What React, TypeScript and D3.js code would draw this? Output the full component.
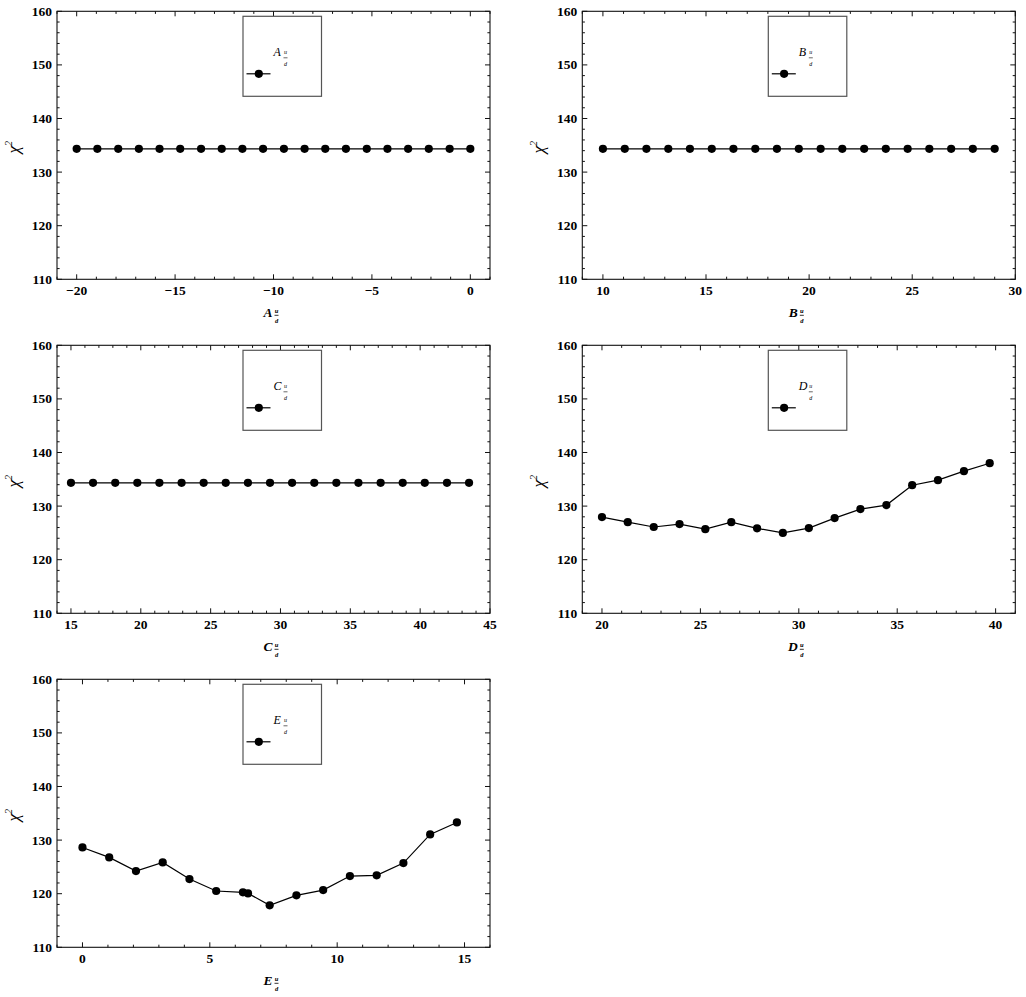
import React from "react";
import * as d3 from "d3";

// ---------- data ----------
const aX = [-20, -18.95, -17.89, -16.84, -15.79, -14.74, -13.68, -12.63, -11.58, -10.53, -9.47, -8.42, -7.37, -6.32, -5.26, -4.21, -3.16, -2.11, -1.05, 0];
const aY = [134.35, 134.35, 134.35, 134.35, 134.35, 134.35, 134.35, 134.35, 134.35, 134.35, 134.35, 134.35, 134.35, 134.35, 134.35, 134.35, 134.35, 134.35, 134.35, 134.35];

const bX = [10, 11.06, 12.11, 13.17, 14.22, 15.28, 16.33, 17.39, 18.44, 19.5, 20.56, 21.61, 22.67, 23.72, 24.78, 25.83, 26.89, 27.94, 29];
const bY = [134.35, 134.35, 134.35, 134.35, 134.35, 134.35, 134.35, 134.35, 134.35, 134.35, 134.35, 134.35, 134.35, 134.35, 134.35, 134.35, 134.35, 134.35, 134.35];

const cX = [15, 16.58, 18.17, 19.75, 21.33, 22.92, 24.5, 26.08, 27.67, 29.25, 30.83, 32.42, 34, 35.58, 37.17, 38.75, 40.33, 41.92, 43.5];
const cY = [134.35, 134.35, 134.35, 134.35, 134.35, 134.35, 134.35, 134.35, 134.35, 134.35, 134.35, 134.35, 134.35, 134.35, 134.35, 134.35, 134.35, 134.35, 134.35];

const dX = [20, 21.31, 22.63, 23.94, 25.25, 26.57, 27.88, 29.19, 30.51, 31.82, 33.13, 34.45, 35.76, 37.07, 38.39, 39.7];
const dY = [127.95, 127.0, 126.1, 126.65, 125.7, 127.0, 125.85, 125.0, 125.9, 127.76, 129.44, 130.19, 133.9, 134.84, 136.52, 138.0];

const eX = [0, 1.05, 2.1, 3.15, 4.2, 5.25, 6.3, 6.5, 7.35, 8.4, 9.45, 10.5, 11.55, 12.6, 13.65, 14.7];
const eY = [128.63, 126.77, 124.22, 125.84, 122.73, 120.5, 120.25, 120.06, 117.83, 119.69, 120.68, 123.29, 123.42, 125.71, 131.06, 133.29];

const aTicks = [-20, -15, -10, -5, 0];
const bTicks = [10, 15, 20, 25, 30];
const cTicks = [15, 20, 25, 30, 35, 40, 45];
const dTicks = [20, 25, 30, 35, 40];
const eTicks = [0, 5, 10, 15];
const yTicks = [110, 120, 130, 140, 150, 160];

const aDomain = [-21, 1];
const bDomain = [9, 30];
const cDomain = [14, 45];
const dDomain = [19, 41];
const eDomain = [-1, 16];
const yDomain = [110, 160];

const labels = ["A", "B", "C", "D", "E"];

// ---------- layout ----------
const W = 433;
const H = 268;
const SERIF = "Liberation Serif, Times New Roman, serif";

const fmt = (v: number) => (v < 0 ? "\u2212" + Math.abs(v) : String(v));

type PanelProps = {
  left: number;
  top: number;
  letter: string;
  xs: number[];
  ys: number[];
  xDomain: number[];
  xTicks: number[];
};

function Panel({ left, top, letter, xs, ys, xDomain, xTicks }: PanelProps) {
  const x = d3.scaleLinear().domain(xDomain).range([0, W]);
  const y = d3.scaleLinear().domain(yDomain).range([H, 0]);

  const xMinor = d3.range(Math.ceil(xDomain[0]), Math.floor(xDomain[1]) + 1).filter((v) => !xTicks.includes(v));
  const yMinor = d3.range(yDomain[0], yDomain[1] + 0.001, 2).filter((v) => !yTicks.includes(v));

  const line = d3
    .line<number>()
    .x((_, i) => x(xs[i]))
    .y((_, i) => y(ys[i]));

  const MAJ = 5;
  const MIN = 2.6;

  const lgX = 186;
  const lgY = 5;
  const lgW = 78.5;
  const lgH = 80;

  return (
    <g transform={`translate(${left},${top})`}>
      <path d={line(xs) || ""} fill="none" stroke="#000" strokeWidth={1.2} />
      {xs.map((v, i) => (
        <circle key={i} cx={x(v)} cy={y(ys[i])} r={4.1} fill="#000" />
      ))}

      <rect x={0} y={0} width={W} height={H} fill="none" stroke="#111" strokeWidth={1.1} />

      {xTicks.map((v) => (
        <g key={"xt" + v}>
          <line x1={x(v)} x2={x(v)} y1={H} y2={H - MAJ} stroke="#111" />
          <line x1={x(v)} x2={x(v)} y1={0} y2={MAJ} stroke="#111" />
          <text x={x(v)} y={H + 16} textAnchor="middle" fontFamily={SERIF} fontWeight="bold" fontSize={13.5}>
            {fmt(v)}
          </text>
        </g>
      ))}
      {xMinor.map((v) => (
        <g key={"xm" + v}>
          <line x1={x(v)} x2={x(v)} y1={H} y2={H - MIN} stroke="#111" />
          <line x1={x(v)} x2={x(v)} y1={0} y2={MIN} stroke="#111" />
        </g>
      ))}

      {yTicks.map((v) => (
        <g key={"yt" + v}>
          <line x1={0} x2={MAJ} y1={y(v)} y2={y(v)} stroke="#111" />
          <line x1={W} x2={W - MAJ} y1={y(v)} y2={y(v)} stroke="#111" />
          <text x={-5} y={y(v) + 4.6} textAnchor="end" fontFamily={SERIF} fontWeight="bold" fontSize={13.5}>
            {v}
          </text>
        </g>
      ))}
      {yMinor.map((v) => (
        <g key={"ym" + v}>
          <line x1={0} x2={MIN} y1={y(v)} y2={y(v)} stroke="#111" />
          <line x1={W} x2={W - MIN} y1={y(v)} y2={y(v)} stroke="#111" />
        </g>
      ))}

      {/* x axis label */}
      <g transform={`translate(${W / 2 - 1},${H + 38})`} fontFamily={SERIF} fontStyle="italic" fontWeight="bold">
        <text x={0} y={0} textAnchor="end" fontSize={13.5}>
          {letter}
        </text>
        <text x={4} y={-4} textAnchor="middle" fontSize={6.5}>
          u
        </text>
        <line x1={2} x2={6} y1={-2} y2={-2} stroke="#000" strokeWidth={0.8} />
        <text x={4} y={6} textAnchor="middle" fontSize={6.5}>
          d
        </text>
      </g>

      {/* y axis label */}
      <g transform={`translate(${-38},${H / 2 + 2}) rotate(-90)`} fontFamily={SERIF} fontStyle="italic">
        <text x={0} y={0} textAnchor="middle" fontSize={17}>
          χ
          <tspan fontSize={10} dy={-7}>
            2
          </tspan>
        </text>
      </g>

      {/* legend */}
      <g transform={`translate(${lgX},${lgY})`}>
        <rect x={0} y={0} width={lgW} height={lgH} fill="#fff" stroke="#555" strokeWidth={1.2} />
        <line x1={3.5} x2={27.5} y1={57.5} y2={57.5} stroke="#000" strokeWidth={1.2} />
        <circle cx={15.8} cy={57.5} r={4.1} fill="#000" />
        <g fontFamily={SERIF} fontStyle="italic" fill="#000">
          <text x={30.5} y={39.5} fontSize={12}>
            {letter}
          </text>
          <text x={42.5} y={37.5} textAnchor="middle" fontSize={6}>
            u
          </text>
          <line x1={40.5} x2={44.5} y1={41.5} y2={41.5} stroke="#000" strokeWidth={0.6} />
          <text x={42.5} y={50} textAnchor="middle" fontSize={6}>
            d
          </text>
        </g>
      </g>
    </g>
  );
}

export default function App() {
  const L1 = 57;
  const L2 = 582.3;
  const T = [11.3, 345.3, 679.3];
  const panels = [
    { left: L1, top: T[0], xs: aX, ys: aY, xDomain: aDomain, xTicks: aTicks },
    { left: L2, top: T[0], xs: bX, ys: bY, xDomain: bDomain, xTicks: bTicks },
    { left: L1, top: T[1], xs: cX, ys: cY, xDomain: cDomain, xTicks: cTicks },
    { left: L2, top: T[1], xs: dX, ys: dY, xDomain: dDomain, xTicks: dTicks },
    { left: L1, top: T[2], xs: eX, ys: eY, xDomain: eDomain, xTicks: eTicks },
  ];
  return (
    <svg width={1026} height={997} style={{ position: "absolute", left: 0, top: 0, background: "#fff" }}>
      <rect x={0} y={0} width={1026} height={997} fill="#fff" />
      {panels.map((p, i) => (
        <Panel key={i} letter={labels[i]} {...p} />
      ))}
    </svg>
  );
}
